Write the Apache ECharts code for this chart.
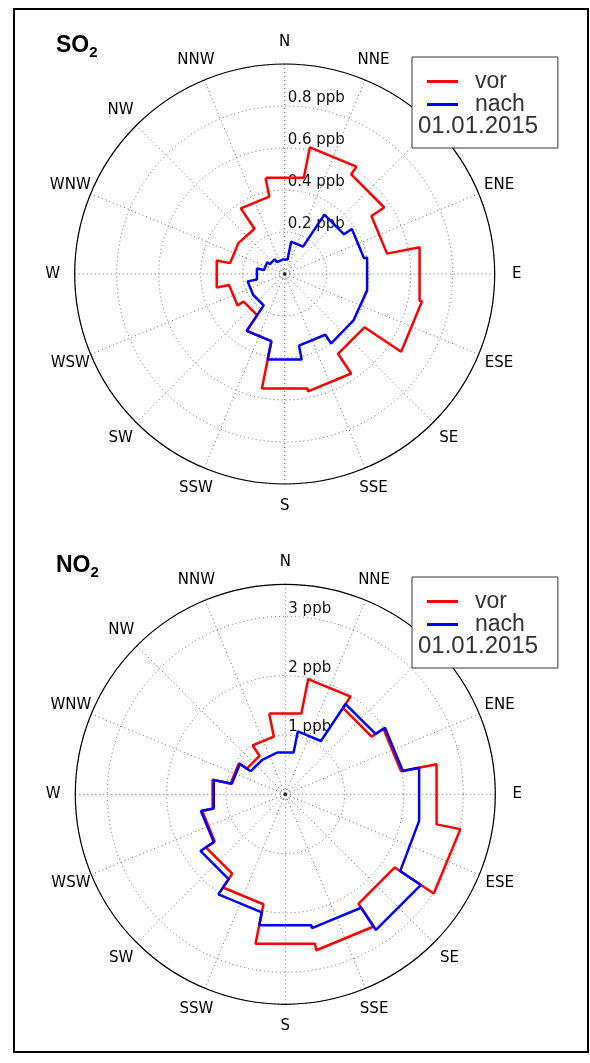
<!DOCTYPE html>
<html><head><meta charset="utf-8">
<script src="https://cdn.jsdelivr.net/npm/echarts@6/dist/echarts.min.js"></script>
<style>html,body{margin:0;padding:0;background:#fff}#c{width:590px;height:1063px}</style>
</head><body><div id="c"></div>
<script>
// ---- data ----
const directions = ['N','NNE','NE','ENE','E','ESE','SE','SSE','S','SSW','SW','WSW','W','WNW','NW','NNW'];
const so2Vor  = [0.467,0.615,0.570,0.497,0.655,0.667,0.457,0.570,0.556,0.326,0.236,0.270,0.330,0.265,0.259,0.376];
const so2Nach = [0.070,0.157,0.340,0.385,0.400,0.395,0.398,0.348,0.415,0.326,0.180,0.180,0.135,0.100,0.085,0.068];
const no2Vor  = [1.39,1.98,1.75,1.99,2.60,3.01,2.22,2.68,2.57,1.89,1.61,1.43,1.25,0.94,0.78,0.99];
const no2Nach = [0.72,1.08,1.83,2.02,2.30,2.33,2.75,2.30,2.25,2.03,1.72,1.45,1.23,0.92,0.70,0.715];
const so2RingLabels = [0.2,0.4,0.6,0.8];
const no2RingLabels = [1,2,3];
const legendNames = ['vor','nach'];
const dateLabel = '01.01.2015';
const unit = 'ppb';

// ---- helpers ----
const SECTOR = 360 / directions.length;
const LABEL_R = 1.105; // compass labels sit just outside the outer circle (fraction of axis max)
function stepRose(vals){
  const pts = [];
  vals.forEach((v,i)=>{
    const c = i*SECTOR;
    pts.push([v, (c - SECTOR/2 + 360) % 360], [v, c + SECTOR/2]);
  });
  pts.push(pts[0]);
  return pts;
}
const gridLine = {show:true, lineStyle:{color:'#666', width:1, type:[1,3]}};
function angleAxis(idx){
  return {polarIndex:idx, type:'value', min:0, max:360, interval:SECTOR, startAngle:90, clockwise:true,
    axisLine:{show:true, lineStyle:{color:'#000', width:1.2}},
    axisTick:{show:false}, axisLabel:{show:false},
    splitLine:gridLine};
}
function radiusAxis(idx, max, interval, rings){
  return {polarIndex:idx, type:'value', min:0, max:max, interval:interval,
    axisLine:{show:false}, axisTick:{show:false},
    axisLabel:{show:true, margin:-3, align:'left', verticalAlign:'bottom',
      fontFamily:'DejaVu Sans', fontSize:15, color:'#111',
      formatter:v=>{const r=rings.find(x=>Math.abs(x-v)<1e-6); return r===undefined?'':(r+' '+unit);}},
    splitLine:gridLine};
}
function compassLabels(idx, max){
  return {type:'scatter', coordinateSystem:'polar', polarIndex:idx, clip:false, silent:true, z:5,
    data:directions.map((d,i)=>[max*LABEL_R, i*SECTOR]),
    symbolSize:1, itemStyle:{color:'rgba(0,0,0,0)'},
    label:{show:true, position:'inside', formatter:p=>directions[p.dataIndex],
      fontFamily:'DejaVu Sans', fontSize:15, color:'#000', textBorderWidth:0, opacity:1}};
}
function lineSeries(name, data, color, idx, z){
  return {type:'line', name:name, coordinateSystem:'polar', polarIndex:idx, data:stepRose(data),
    symbol:'none', showSymbol:false, lineStyle:{color:color, width:2.5}, itemStyle:{color:color}, z:z, silent:true};
}
function centerMarks(idx){
  return [
    {type:'scatter', coordinateSystem:'polar', polarIndex:idx, data:[[0,0]], symbolSize:10, silent:true, z:1,
      itemStyle:{color:'rgba(0,0,0,0)', borderColor:'#555', borderWidth:1, borderType:[1,2]}},
    {type:'scatter', coordinateSystem:'polar', polarIndex:idx, data:[[0,0]], symbolSize:3, silent:true, z:1,
      itemStyle:{color:'#000'}}
  ];
}
function legend(top){
  return {data:legendNames, orient:'vertical', left:412, top:top, icon:'rect', itemWidth:31, itemHeight:3, itemGap:0,
    padding:[13,33,32,15], backgroundColor:'#fff', borderColor:'#333', borderWidth:1, z:10,
    textStyle:{fontFamily:'Liberation Sans', fontSize:23, color:'#333', lineHeight:21, padding:[0,0,0,12]},
    selectedMode:false};
}
function title(main, top){
  return {text:'{a|'+main+'}{b|2}', left:56, top:top, padding:0,
    textStyle:{rich:{
      a:{fontFamily:'Liberation Sans', fontWeight:'bold', fontSize:23, color:'#000', lineHeight:28, verticalAlign:'middle'},
      b:{fontFamily:'Liberation Sans', fontWeight:'bold', fontSize:15, color:'#000', lineHeight:28, verticalAlign:'bottom'}}}};
}

const chart = echarts.init(document.getElementById('c'), null, {renderer:'canvas'});
chart.setOption({
  animation:false,
  backgroundColor:'#fff',
  title:[title('SO',32), title('NO',552)],
  legend:[legend(57), legend(577)],
  polar:[{center:[284.7,274], radius:210},{center:[285.3,794.3], radius:210}],
  angleAxis:[angleAxis(0), angleAxis(1)],
  radiusAxis:[radiusAxis(0,1.0,0.2,so2RingLabels), radiusAxis(1,3.54,1,no2RingLabels)],
  series:[
    ...centerMarks(0), ...centerMarks(1),
    compassLabels(0,1.0), compassLabels(1,3.54),
    lineSeries('vor', so2Vor, '#ff0000', 0, 3),
    lineSeries('nach', so2Nach, '#0000ff', 0, 4),
    lineSeries('vor', no2Vor, '#ff0000', 1, 3),
    lineSeries('nach', no2Nach, '#0000ff', 1, 4)
  ],
  graphic:[
    {type:'rect', shape:{x:14, y:9, width:574, height:1043}, style:{fill:'none', stroke:'#000', lineWidth:2}, z:100, silent:true},
    {type:'text', left:418, top:114, z:101, style:{text:dateLabel, fontFamily:'Liberation Sans', fontSize:24, fill:'#333'}},
    {type:'text', left:418, top:634, z:101, style:{text:dateLabel, fontFamily:'Liberation Sans', fontSize:24, fill:'#333'}}
  ]
});
</script></body></html>
